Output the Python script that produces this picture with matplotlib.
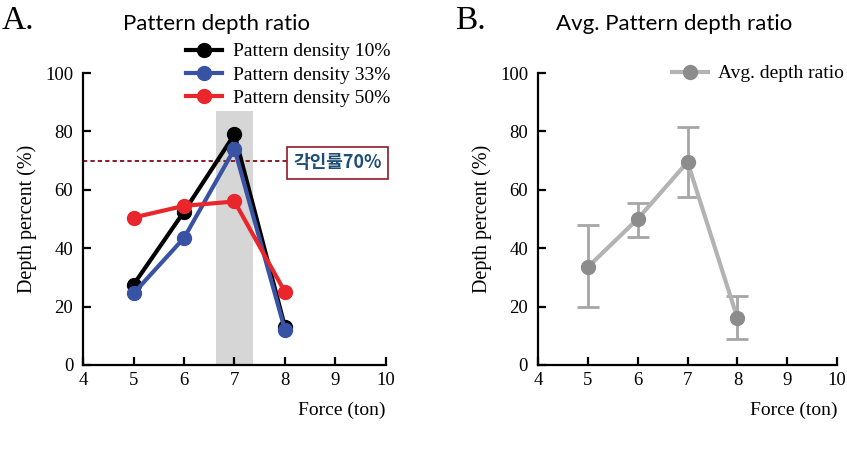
import matplotlib
matplotlib.use("Agg")
import matplotlib.pyplot as plt
from matplotlib.lines import Line2D

force = [5, 6, 7, 8]
density_10 = [27.5, 52.5, 79.0, 13.0]
density_33 = [24.5, 43.5, 74.0, 12.0]
density_50 = [50.5, 54.5, 56.0, 25.0]
avg_ratio = [33.5, 50.0, 69.5, 16.0]
avg_err_low = [20.0, 44.0, 57.5, 9.0]
avg_err_high = [48.0, 55.5, 81.5, 23.5]
x_ticks = [4, 5, 6, 7, 8, 9, 10]
y_ticks = [0, 20, 40, 60, 80, 100]
threshold = 70
band = (6.63, 7.37, 87)

serif = "Liberation Serif"
sans = "Lato"
plt.rcParams["font.family"] = serif

fig = plt.figure(figsize=(8.47, 4.61), dpi=100)
axA = fig.add_axes([0.098, 0.2083, 0.3577, 0.6333])
axB = fig.add_axes([0.635, 0.2083, 0.3535, 0.6333])

def style(ax):
    ax.set_xlim(4, 10)
    ax.set_ylim(0, 100)
    ax.set_xticks(x_ticks)
    ax.set_yticks(y_ticks)
    for s in ["top", "right"]:
        ax.spines[s].set_visible(False)
    for s in ["left", "bottom"]:
        ax.spines[s].set_linewidth(1.6)
    ax.tick_params(direction="in", length=6, width=1.6, labelsize=13.5)
    ax.tick_params(axis="y", pad=7)
    ax.tick_params(axis="x", pad=5)
    ax.set_ylabel("Depth percent (%)", fontsize=14.5, family=serif, labelpad=6)
    ax.set_xlabel("Force (ton)", fontsize=14, family=serif, loc="right", labelpad=9)

style(axA)
style(axB)

# Panel A
axA.fill_between([band[0], band[1]], 0, band[2], color="#d6d6d6", lw=0, zorder=0)
axA.plot([4, 8.04], [threshold, threshold], ls=(0, (2.2, 1.6)), color="#8b1a2b", lw=1.4, zorder=1)
lk = dict(lw=3, marker="o", ms=10, zorder=3)
axA.plot(force, density_10, color="black", label="Pattern density 10%", **lk)
axA.plot(force, density_33, color="#3953a4", label="Pattern density 33%", **lk)
axA.plot(force, density_50, color="#e8262b", label="Pattern density 50%", **lk)
axA.legend(loc="upper right",
           bbox_to_anchor=(400 / 847, 1 - 33 / 461), bbox_transform=fig.transFigure,
           frameon=False, fontsize=14, handlelength=1.85, handletextpad=0.55,
           labelspacing=0.3, borderpad=0)
axA.text(8.17, 69.2, "각인률70%", fontsize=13, fontweight="bold", color="#1f4e79",
         family=["Noto Sans CJK KR", "DejaVu Sans"], va="center", ha="left",
         bbox=dict(boxstyle="square,pad=0.35", fc="white", ec="#8b1a2b", lw=1.2), zorder=4)
axA.text(-0.267, 1.18, "A.", transform=axA.transAxes, fontsize=24, family=serif, va="center")
axA.set_title("Pattern depth ratio", fontsize=16, family=sans, pad=31, x=0.442)

# Panel B
yerr = [[a - lo for a, lo in zip(avg_ratio, avg_err_low)],
        [hi - a for a, hi in zip(avg_ratio, avg_err_high)]]
axB.errorbar(force, avg_ratio, yerr=yerr, color="#b3b3b3", ecolor="#a6a6a6", elinewidth=2,
             capsize=8, capthick=2, lw=3, marker="o", ms=10, mfc="#8c8c8c", mec="#8c8c8c",
             zorder=3)
proxy = Line2D([], [], color="#b3b3b3", lw=3, marker="o", ms=10, mfc="#8c8c8c", mec="#8c8c8c")
axB.legend([proxy], ["Avg. depth ratio"], loc="upper right",
           bbox_to_anchor=(854 / 847, 1 - 55 / 461), bbox_transform=fig.transFigure,
           frameon=False, fontsize=14, handlelength=1.85, handletextpad=0.55, borderpad=0)
axB.text(-0.275, 1.18, "B.", transform=axB.transAxes, fontsize=24, family=serif, va="center")
axB.set_title("Avg. Pattern depth ratio", fontsize=16, family=sans, pad=31, x=0.454)

fig.savefig("out.png", dpi=100)
